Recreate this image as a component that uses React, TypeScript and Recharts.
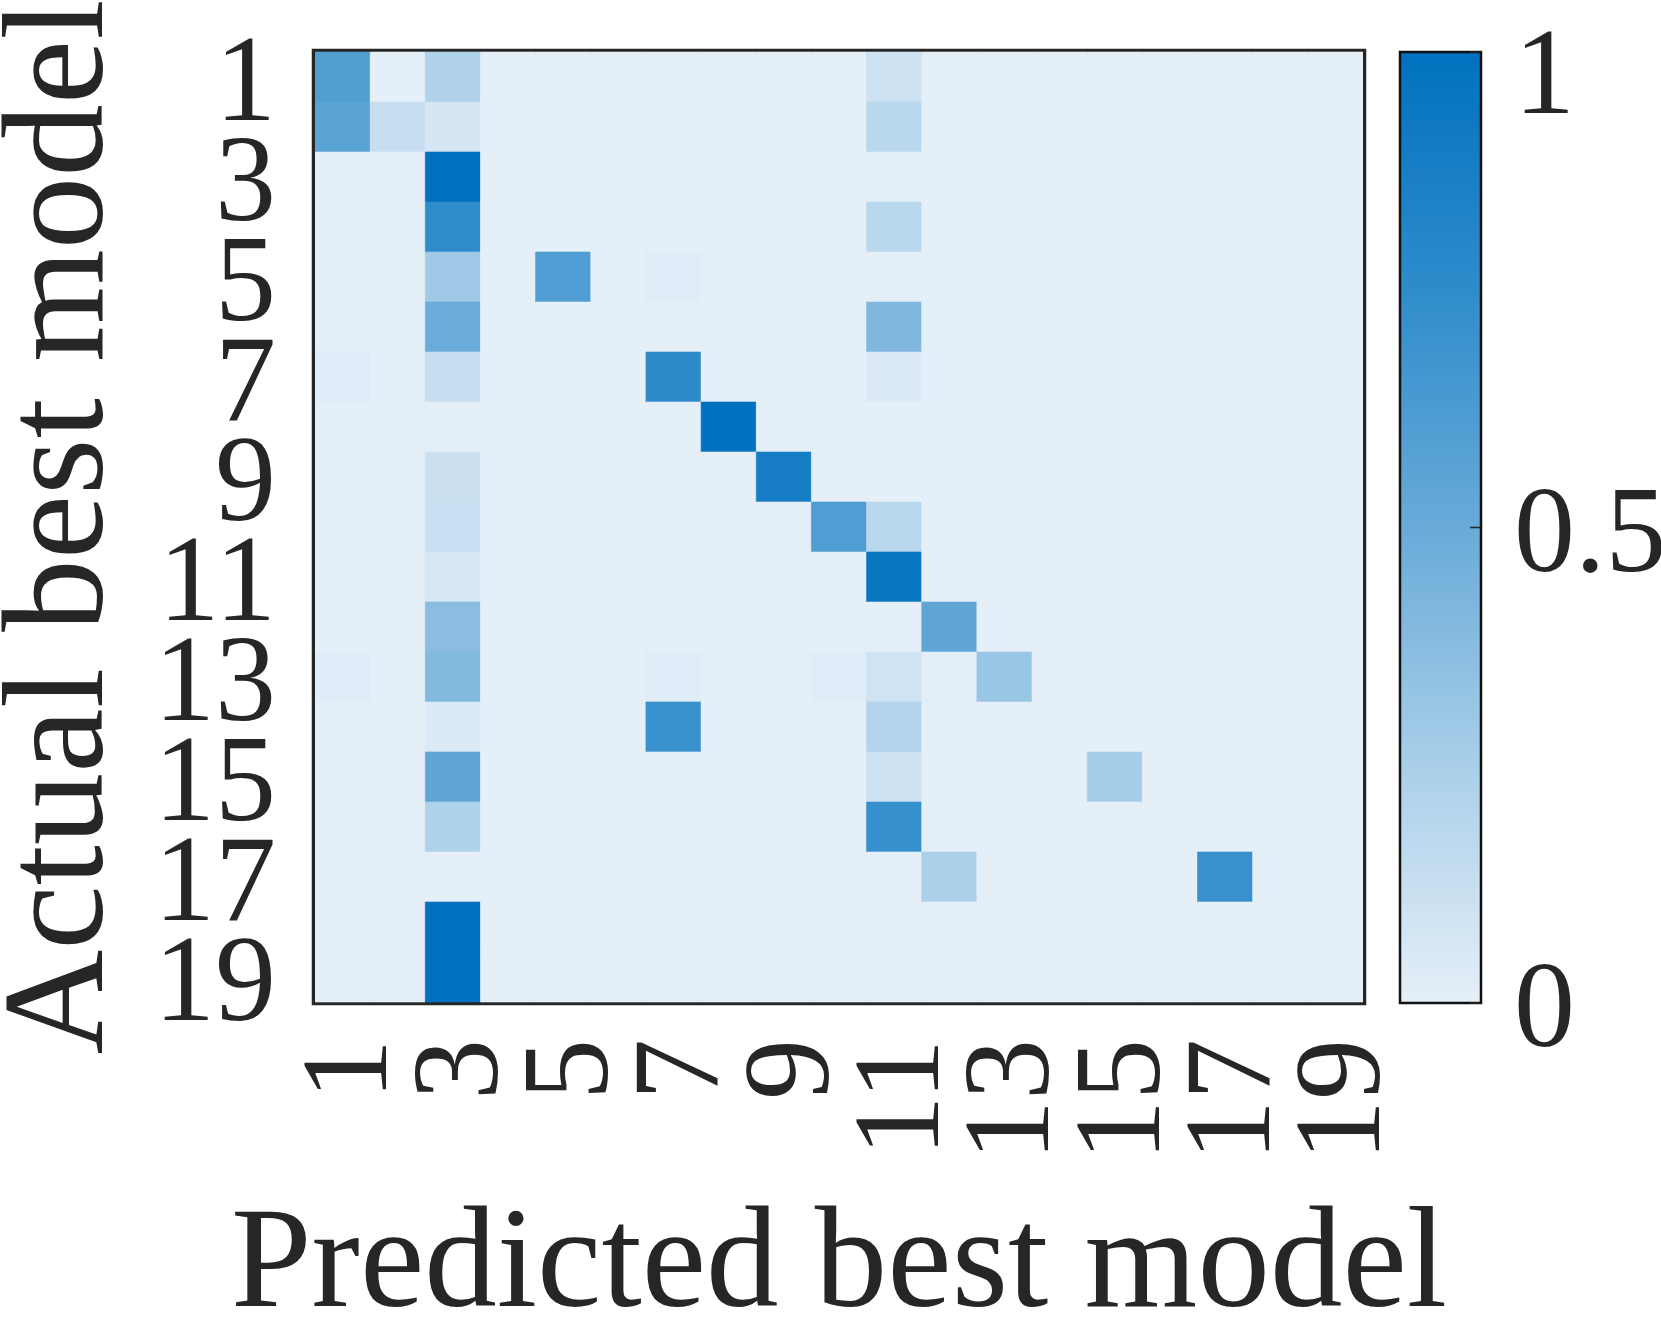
import React from "react";
import { BarChart, Bar, Cell, XAxis, YAxis, Label, ReferenceArea } from "recharts";

// model ids on both axes
const models = ["1", "2", "3", "4", "5", "6", "7", "8", "9", "10", "11", "12", "13", "14", "15", "16", "17", "18", "19"];
const xTickLabels = [1, 3, 5, 7, 9, 11, 13, 15, 17, 19];
const colorbarTicks = [0, 0.5, 1];

// colormap (value -> colour)
const cmapStops = [0, 0.25, 0.5, 0.75, 1];
const cmapColors = ["#e5eff8", "#a9cfe9", "#68aad8", "#2f8ccb", "#0071bf"];

// rows = actual best model, columns = predicted best model (fractions)
const confusion = [
  [0.6, 0, 0.22, 0, 0, 0, 0, 0, 0, 0, 0.1, 0, 0, 0, 0, 0, 0, 0, 0],
  [0.56, 0.13, 0.07, 0, 0, 0, 0, 0, 0, 0, 0.18, 0, 0, 0, 0, 0, 0, 0, 0],
  [0, 0, 1, 0, 0, 0, 0, 0, 0, 0, 0, 0, 0, 0, 0, 0, 0, 0, 0],
  [0, 0, 0.75, 0, 0, 0, 0, 0, 0, 0, 0.18, 0, 0, 0, 0, 0, 0, 0, 0],
  [0, 0, 0.29, 0, 0.61, 0, 0.02, 0, 0, 0, 0, 0, 0, 0, 0, 0, 0, 0, 0],
  [0, 0, 0.49, 0, 0, 0, 0, 0, 0, 0, 0.41, 0, 0, 0, 0, 0, 0, 0, 0],
  [0.02, 0, 0.13, 0, 0, 0, 0.76, 0, 0, 0, 0.04, 0, 0, 0, 0, 0, 0, 0, 0],
  [0, 0, 0, 0, 0, 0, 0, 1, 0, 0, 0, 0, 0, 0, 0, 0, 0, 0, 0],
  [0, 0, 0.11, 0, 0, 0, 0, 0, 0.88, 0, 0, 0, 0, 0, 0, 0, 0, 0, 0],
  [0, 0, 0.12, 0, 0, 0, 0, 0, 0, 0.61, 0.18, 0, 0, 0, 0, 0, 0, 0, 0],
  [0, 0, 0.06, 0, 0, 0, 0, 0, 0, 0, 0.95, 0, 0, 0, 0, 0, 0, 0, 0],
  [0, 0, 0.37, 0, 0, 0, 0, 0, 0, 0, 0, 0.54, 0, 0, 0, 0, 0, 0, 0],
  [0.02, 0, 0.4, 0, 0, 0, 0.02, 0, 0, 0.02, 0.09, 0.01, 0.31, 0, 0, 0, 0, 0, 0],
  [0, 0, 0.04, 0, 0, 0, 0.71, 0, 0, 0, 0.21, 0, 0, 0, 0, 0, 0, 0, 0],
  [0, 0, 0.54, 0, 0, 0, 0, 0, 0, 0, 0.1, 0, 0, 0, 0.26, 0, 0, 0, 0],
  [0, 0, 0.23, 0, 0, 0, 0, 0, 0, 0, 0.72, 0, 0, 0, 0, 0, 0, 0, 0],
  [0, 0, 0, 0, 0, 0, 0, 0, 0, 0, 0, 0.24, 0, 0, 0, 0, 0.71, 0, 0],
  [0, 0, 1, 0, 0, 0, 0, 0, 0, 0, 0, 0, 0, 0, 0, 0, 0, 0, 0],
  [0, 0, 1, 0, 0, 0, 0, 0, 0, 0, 0, 0, 0, 0, 0, 0, 0, 0, 0],
];

const FONT = "Times New Roman, Liberation Serif, Times, serif";
const INK = "#262626";

const hexToRgb = (h: string) => [1, 3, 5].map((i) => parseInt(h.slice(i, i + 2), 16));

const colorFor = (v: number) => {
  let k = 0;
  while (k < cmapStops.length - 2 && v > cmapStops[k + 1]) k++;
  const t = (v - cmapStops[k]) / (cmapStops[k + 1] - cmapStops[k]);
  const a = hexToRgb(cmapColors[k]);
  const b = hexToRgb(cmapColors[k + 1]);
  const c = a.map((ch, i) => Math.round(ch + (b[i] - ch) * t));
  return `rgb(${c[0]},${c[1]},${c[2]})`;
};

// every row is a stack of 19 unit-width cells
const heatData = models.map((m) => {
  const row: Record<string, string | number> = { model: m };
  models.forEach((_, j) => {
    row[`p${j}`] = 1;
  });
  return row;
});

const colorbarData = [{ name: "scale", value: 1 }];

const XTick = ({ x, y, payload }: any) => (
  <text
    x={x}
    y={y}
    dy="0.36em"
    textAnchor="end"
    transform={`rotate(-90, ${x}, ${y})`}
    fontSize={122}
    fontFamily={FONT}
    fill={INK}
  >
    {String(payload.value + 0.5)}
  </text>
);

const YTitle = ({ viewBox }: any) => {
  const x = viewBox.x + 102;
  const y = viewBox.y + viewBox.height / 2;
  return (
    <text
      x={x}
      y={y}
      textAnchor="middle"
      transform={`rotate(-90, ${x}, ${y})`}
      fontSize={145}
      fontFamily={FONT}
      fill={INK}
    >
      Actual best model
    </text>
  );
};

const App = () => {
  return (
    <div
      style={{
        position: "absolute",
        left: 0,
        top: 0,
        width: 1661,
        height: 1317,
        background: "#fff",
        overflow: "hidden",
      }}
    >
      <div style={{ position: "absolute", left: 1380, top: 0 }}>
        <BarChart
          width={281}
          height={1317}
          data={colorbarData}
          margin={{ top: 52, right: 0, bottom: 314, left: 20 }}
          barCategoryGap={0}
        >
          <defs>
            <linearGradient id="cbGrad" x1="0" y1="1" x2="0" y2="0">
              {cmapStops.map((s, i) => (
                <stop key={i} offset={`${s * 100}%`} stopColor={cmapColors[i]} />
              ))}
            </linearGradient>
          </defs>
          <XAxis dataKey="name" hide />
          <Bar
            dataKey="value"
            fill="url(#cbGrad)"
            stroke="#111"
            strokeWidth={2.5}
            isAnimationActive={false}
          />
          <YAxis
            orientation="right"
            type="number"
            domain={[0, 1]}
            ticks={colorbarTicks}
            width={180}
            axisLine={false}
            tickSize={-11}
            tickMargin={44}
            tickLine={{ stroke: INK, strokeWidth: 1.5 }}
            tick={{ fontSize: 122, fontFamily: FONT, fill: INK }}
          />
        </BarChart>
      </div>

      <div style={{ position: "absolute", left: 0, top: 0 }}>
        <BarChart
          width={1661}
          height={1317}
          data={heatData}
          layout="vertical"
          margin={{ top: 52, right: 298, bottom: 0, left: 0 }}
          barCategoryGap={0}
          barGap={0}
        >
          {/* plot frame: sits under the cells, so only its outer half shows */}
          <ReferenceArea
            x1={0}
            x2={19}
            fill="none"
            fillOpacity={0}
            stroke={INK}
            strokeWidth={6.5}
            ifOverflow="visible"
          />
          {models.map((_, j) => (
            <Bar key={j} dataKey={`p${j}`} stackId="m" isAnimationActive={false}>
              {confusion.map((row, i) => (
                <Cell key={i} fill={colorFor(row[j])} stroke={colorFor(row[j])} strokeWidth={0.6} />
              ))}
            </Bar>
          ))}
          <XAxis
            type="number"
            domain={[0, 19]}
            ticks={xTickLabels.map((l) => l - 0.5)}
            interval={0}
            height={315}
            tickSize={0}
            tickMargin={37}
            axisLine={false}
            tickLine={false}
            tick={<XTick />}
            allowDataOverflow
          >
            <Label
              value="Predicted best model"
              position="insideBottom"
              offset={11}
              fontSize={145}
              fontFamily={FONT}
              fill={INK}
            />
          </XAxis>
          <YAxis
            type="category"
            dataKey="model"
            width={315}
            interval={1}
            tickSize={0}
            tickMargin={39}
            axisLine={false}
            tickLine={false}
            tick={{ fontSize: 122, fontFamily: FONT, fill: INK }}
          >
            <Label content={<YTitle />} />
          </YAxis>
        </BarChart>
      </div>
    </div>
  );
};

export default App;
